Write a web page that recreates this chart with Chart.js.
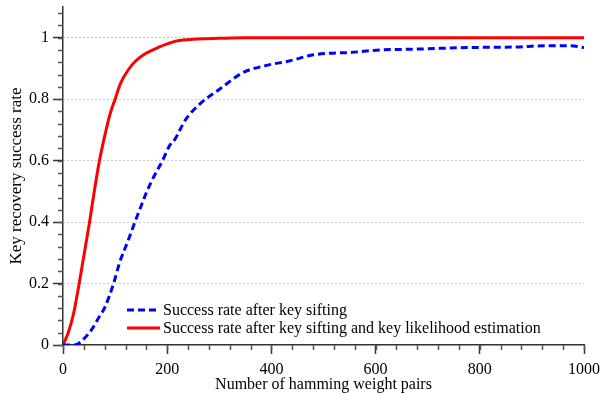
<!DOCTYPE html>
<html>
<head>
<meta charset="utf-8">
<script src="https://cdn.jsdelivr.net/npm/chart.js@4/dist/chart.umd.min.js"></script>
<style>
  html, body { margin: 0; padding: 0; background: #fff; }
  #wrap { width: 602px; height: 394px; }
</style>
</head>
<body>
<div id="wrap"><canvas id="grafico"></canvas></div>
<script>
// dados
var siftX = [0, 20, 30, 40, 55, 69, 81, 97, 109, 125, 138, 154, 161, 175, 191, 205, 215, 234, 263, 301, 346, 391, 436, 474, 506, 551, 608, 679, 775, 871, 928, 973, 1000];
var siftY = [0, 0, 0.005, 0.02, 0.05, 0.09, 0.125, 0.2, 0.27, 0.34, 0.4, 0.47, 0.5, 0.55, 0.6, 0.65, 0.67, 0.73, 0.785, 0.833, 0.887, 0.91, 0.925, 0.942, 0.949, 0.952, 0.96, 0.963, 0.968, 0.97, 0.974, 0.974, 0.968];

var likeX = [0, 10, 20, 30, 40, 50, 60, 70, 80, 90, 100, 110, 125, 140, 160, 185, 200, 220, 250, 300, 350, 500, 700, 1000];
var likeY = [0, 0.04, 0.1, 0.19, 0.29, 0.39, 0.5, 0.6, 0.68, 0.75, 0.8, 0.85, 0.895, 0.925, 0.95, 0.97, 0.98, 0.99, 0.995, 0.998, 1, 1, 1, 1];

var legendas = ["Success rate after key sifting", "Success rate after key sifting and key likelihood estimation"];

var xMajor = [0, 200, 400, 600, 800, 1000];
var yMajor = [0, 0.2, 0.4, 0.6, 0.8, 1];
var xMinorStep = 40;
var yMinorStep = 0.04;

var fonte = "'Liberation Serif', 'Times New Roman', serif";

function pontos(xs, ys) {
    return xs.map(function (x, i) { return { x: x, y: ys[i] }; });
}

// ticks menores + legenda dentro do gráfico
var extras = {
    id: "extras",
    afterDraw: function (chart) {
        var ctx = chart.ctx;
        var sx = chart.scales.x, sy = chart.scales.y;
        ctx.save();
        ctx.strokeStyle = "#555";
        ctx.lineWidth = 1.5;
        ctx.beginPath();
        for (var v = 0; v <= 1000.001; v += xMinorStep) {
            var px = Math.round(sx.getPixelForValue(v)) + 0.5;
            ctx.moveTo(px, sy.bottom);
            ctx.lineTo(px, sy.bottom + 5);
        }
        for (var k = 0; k * yMinorStep <= 1.09; k++) {
            var py = Math.round(sy.getPixelForValue(k * yMinorStep)) + 0.5;
            ctx.moveTo(sx.left - 5, py);
            ctx.lineTo(sx.left, py);
        }
        ctx.stroke();

        // legenda
        var ds = chart.data.datasets;
        var lx = sx.left + 64;
        var ly = [sy.bottom - 35, sy.bottom - 17];
        ctx.font = "16px " + fonte;
        ctx.textBaseline = "middle";
        ctx.fillStyle = "#000";
        for (var i = 0; i < ds.length; i++) {
            ctx.beginPath();
            ctx.strokeStyle = ds[i].borderColor;
            ctx.lineWidth = ds[i].borderWidth;
            ctx.setLineDash(ds[i].borderDash || []);
            ctx.moveTo(lx, ly[i]);
            ctx.lineTo(lx + 33, ly[i]);
            ctx.stroke();
            ctx.setLineDash([]);
            ctx.fillText(ds[i].label, lx + 36, ly[i] + 1);
        }
        ctx.restore();
    }
};

function rotulo(v) { return String(Number(Number(v).toFixed(2))); }

var ctx = document.getElementById("grafico").getContext("2d");
var myChart = new Chart(ctx, {
    type: "line",
    data: {
        datasets: [{
            label: legendas[0],
            data: pontos(siftX, siftY),
            borderColor: "#0000ff",
            borderWidth: 3,
            borderDash: [7, 4],
            pointRadius: 0,
            fill: false,
            cubicInterpolationMode: "monotone"
        }, {
            label: legendas[1],
            data: pontos(likeX, likeY),
            borderColor: "#ff0000",
            borderWidth: 3,
            pointRadius: 0,
            fill: false,
            cubicInterpolationMode: "monotone"
        }]
    },
    options: {
        responsive: true,
        maintainAspectRatio: false,
        animation: false,
        layout: { padding: { left: 0, top: 7, right: 18, bottom: 0 } },
        plugins: {
            legend: { display: false },
            tooltip: { enabled: false }
        },
        scales: {
            x: {
                type: "linear",
                min: 0,
                max: 1000,
                afterBuildTicks: function (s) { s.ticks = xMajor.map(function (v) { return { value: v }; }); },
                afterFit: function (s) { s.height = 49; s.paddingLeft = 0; s.paddingRight = 0; },
                ticks: { color: "#000", font: { family: fonte, size: 16 }, padding: 6, maxRotation: 0, callback: rotulo },
                grid: { drawOnChartArea: false, tickLength: 9, tickColor: "#333", tickWidth: 1.5 },
                border: { color: "#333", width: 1.5 },
                title: { display: true, text: "Number of hamming weight pairs", color: "#000", font: { family: fonte, size: 16 }, padding: 0 }
            },
            y: {
                type: "linear",
                min: 0,
                max: 1.1,
                afterBuildTicks: function (s) { s.ticks = yMajor.map(function (v) { return { value: v }; }); },
                afterFit: function (s) { s.width = 63; s.paddingTop = 0; s.paddingBottom = 0; },
                ticks: { color: "#000", font: { family: fonte, size: 16 }, padding: 4, callback: rotulo },
                grid: {
                    tickLength: 10,
                    tickColor: "#333",
                    tickWidth: 1.5,
                    lineWidth: 1,
                    color: function (c) { return c.tick && c.tick.value === 0 ? "rgba(0,0,0,0)" : "#999"; }
                },
                border: { color: "#333", width: 1.5, dash: [1, 3] },
                title: { display: true, text: "Key recovery success rate", color: "#000", font: { family: fonte, size: 17 }, padding: { top: 6 } }
            }
        }
    },
    plugins: [extras]
});
</script>
</body>
</html>
